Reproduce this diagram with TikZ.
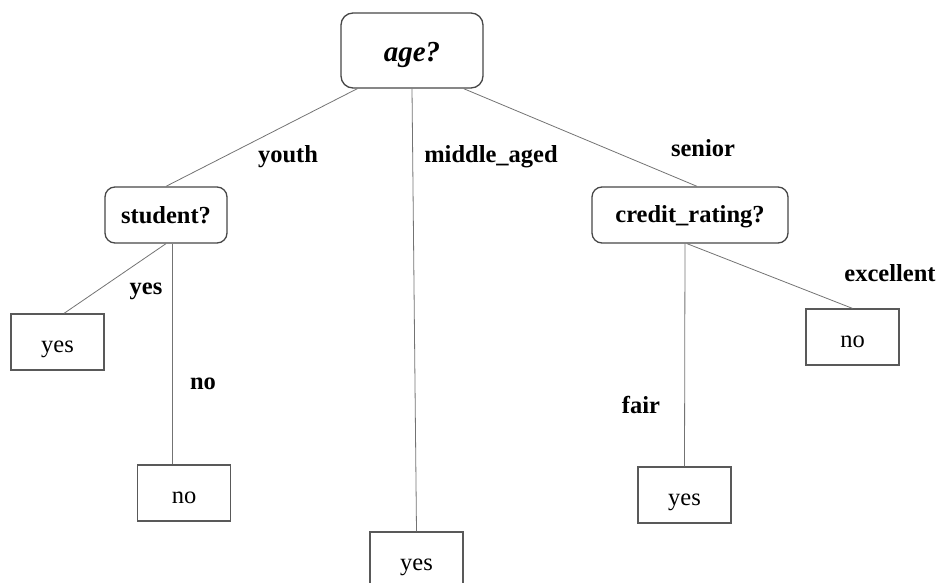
\documentclass[tikz,border=0pt]{standalone}
\usepackage{fontspec}
\setmainfont{Liberation Serif}
\begin{document}
\begin{tikzpicture}[x=1pt,y=-1pt,
  test/.style={draw=black!72,line width=1.3pt,rounded corners=10pt,
    inner sep=0pt,font=\fontsize{24.5}{28}\selectfont\bfseries},
  leaf/.style={draw=black!65,line width=1.2pt,inner sep=0pt,
    minimum width=93pt,minimum height=56pt,text height=21pt,text depth=0pt,
    font=\fontsize{24.5}{28}\selectfont},
  edge/.style={draw=black!55,line width=0.8pt},
  lbl/.style={inner sep=0pt,font=\fontsize{24.5}{28}\selectfont\bfseries}]
\useasboundingbox (0,0) rectangle (937,583);

% internal test nodes
\node[test,minimum width=142pt,minimum height=75pt,rounded corners=12pt,
  text height=23pt,text depth=0pt,
  font=\fontsize{29}{33}\selectfont\bfseries\itshape] (age) at (412,50.5) {age?};
\node[test,minimum width=122pt,minimum height=56pt] (student) at (166,215) {student?};
\node[test,minimum width=196pt,minimum height=56pt,text height=15pt,text depth=0pt]
  (credit) at (690,215) {credit\_rating?};

% leaves
\node[leaf] (syes) at (57.5,342) {yes};
\node[leaf] (sno) at (184,493) {no};
\node[leaf] (myes) at (416.5,560) {yes};
\node[leaf] (fyes) at (684.5,495) {yes};
\node[leaf] (eno) at (852.5,337) {no};

% branches
\draw[edge] ([xshift=17pt]age.south west) -- (student.north);
\draw[edge] (age.south) -- (myes.north);
\draw[edge] ([xshift=-20pt]age.south east) -- ([xshift=7pt]credit.north);
\draw[edge] (student.south) -- ([xshift=6.5pt]syes.north);
\coordinate (snotop) at ([xshift=6pt]student.south);
\draw[edge] (snotop) -- (snotop |- sno.north);
\draw[edge] ([xshift=-5pt]credit.south) -- (fyes.north);
\draw[edge] ([xshift=-3pt]credit.south) -- (eno.north);

% branch labels
\node[lbl] (lyouth) at (288,157) {youth};
\node[lbl] (lmid) at (491,157) {middle\_aged};
\node[lbl] (lsenior) at (703,148) {senior};
\node[lbl] (lyes) at (146,291) {yes};
\node[lbl] (lno) at (203,384) {no};
\node[lbl] (lexc) at (890,273) {excellent};
\node[lbl] (lfair) at (641,405) {fair};
\end{tikzpicture}
\end{document}
